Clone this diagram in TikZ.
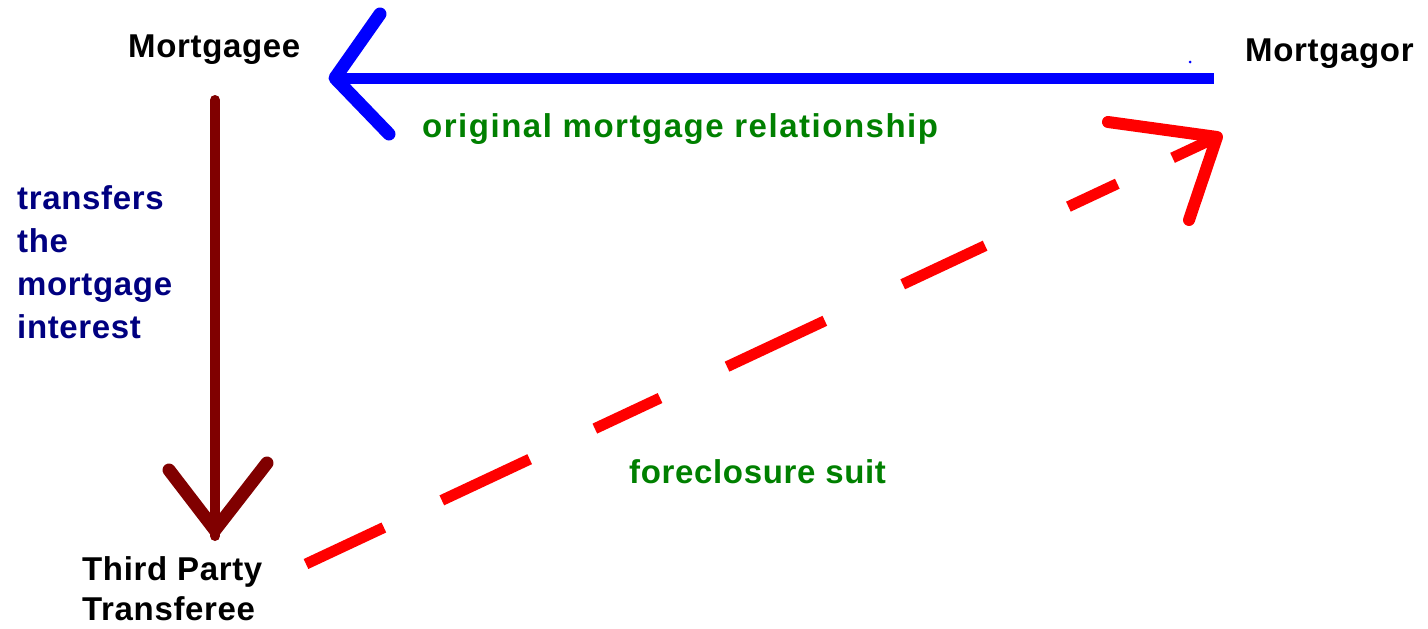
\documentclass[tikz,border=0pt]{standalone}
\usepackage{fontspec}
\newfontfamily\lblfont{Liberation Sans}[LetterSpace=2.0]
\newfontfamily\widelblfont{Liberation Sans}[LetterSpace=4.6]
\definecolor{navytxt}{RGB}{0,0,128}
\definecolor{greentxt}{RGB}{0,128,0}
\definecolor{bluearr}{RGB}{0,0,255}
\definecolor{brownarr}{RGB}{128,0,0}
\definecolor{redarr}{RGB}{255,0,0}
\tikzset{
  party/.style={inner sep=0pt, anchor=base west, text=black, font=\lblfont\bfseries\fontsize{33}{40}\selectfont, align=left},
  edgelabel/.style={inner sep=0pt, anchor=base west, text=greentxt, font=\lblfont\bfseries\fontsize{33}{40}\selectfont},
  sidelabel/.style={inner sep=0pt, anchor=base west, text=navytxt, font=\lblfont\bfseries\fontsize{33}{43}\selectfont, align=left},
  bluestroke/.style={draw=bluearr, line width=11pt},
  brownstroke/.style={draw=brownarr, line width=10pt},
  redstroke/.style={draw=redarr, line width=11pt},
  barb/.style={line width=13pt, line cap=round, line join=round},
}
\begin{document}
\begin{tikzpicture}[x=1pt,y=-1pt]
\useasboundingbox (0,0) rectangle (1428,629);
% nodes
\node[party] (mortgagee) at (128,57) {Mortgagee};
\node[party] (mortgagor) at (1245,61) {Mortgagor};
\node[party] (third) at (82,620) {Third Party\\Transferee};
\node[edgelabel, font=\widelblfont\bfseries\fontsize{33}{40}\selectfont] (orig) at (422,137) {original mortgage relationship};
\node[edgelabel] (fore) at (629,483) {foreclosure suit};
\node[sidelabel] (transf) at (17,338) {transfers\\the\\mortgage\\interest};
% blue connector: mortgagor -> mortgagee
\coordinate (bS) at (1208,78);
\coordinate (bT) at (335,78);
\coordinate (bU) at (380,14);
\coordinate (bL) at (389,134);
\draw[bluestroke, line cap=rect] (bS) -- ([xshift=8pt]bT);
\draw[bluestroke, barb] (bU) -- (bT) -- (bL);
\fill[bluearr] (1190,62) circle (1.5pt);
% brown connector: mortgagee -> third party
\coordinate (rS) at (215,100);
\coordinate (rT) at (215,530);
\coordinate (rL) at (169,470);
\coordinate (rR) at (267,463);
\draw[brownstroke, line cap=round] (rS) -- ([yshift=-6pt]rT);
\draw[brownstroke, barb] (rL) -- (rT) -- (rR);
% red dashed connector: third party -> mortgagor
\coordinate (dS) at (306,564);
\coordinate (dT) at (1217,137);
\coordinate (dA) at (1108,122);
\coordinate (dB) at (1189,220);
\draw[redstroke, line cap=butt,
  dash pattern=on 86pt off 64pt on 97pt off 72pt on 72pt off 74pt on 108pt off 86pt on 91pt off 92pt on 54pt off 61pt on 50pt off 200pt]
  (dS) -- (dT);
\draw[redstroke, barb, line width=12pt] (dA) -- (dT) -- (dB);
\end{tikzpicture}
\end{document}
